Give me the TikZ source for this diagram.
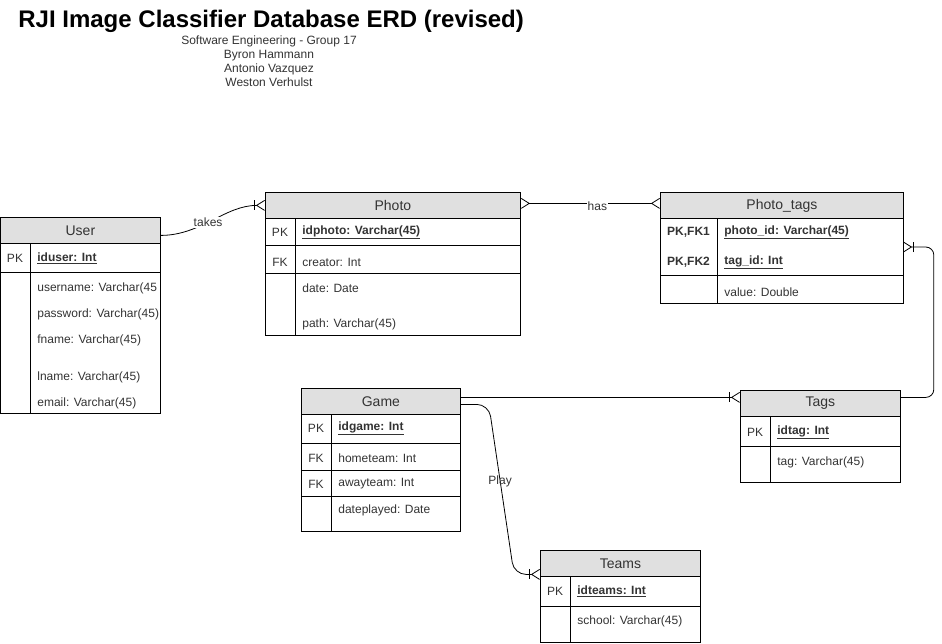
\documentclass[tikz,border=0pt]{standalone}
\usepackage{fontspec}
\setmainfont{Liberation Sans}
\usetikzlibrary{arrows.meta}

\definecolor{hdrgray}{HTML}{E0E0E0}
\definecolor{txtgray}{HTML}{333333}

\newcommand{\keyfld}[1]{\textbf{\underline{#1}}}

\tikzset{
  hdr/.style={draw, fill=hdrgray, anchor=north west, inner sep=0pt, minimum height=26pt,
    text=txtgray, font=\fontsize{14}{16}\selectfont},
  fld/.style={anchor=west, inner sep=0pt, text=txtgray, font=\fontsize{12}{14}\selectfont},
  key/.style={inner sep=0pt, text=txtgray, font=\fontsize{12}{14}\selectfont},
  lbl/.style={fill=white, inner sep=1pt, text=txtgray, font=\fontsize{12}{14}\selectfont},
  onemany/.style={-{Bar[width=10pt,sep=1pt]Straight Barb[reversed,length=8pt,width=10pt]}},
  manymany/.style={{Straight Barb[reversed,length=8pt,width=10pt]}-{Straight Barb[reversed,length=8pt,width=10pt]}}
}

\begin{document}
\begin{tikzpicture}[x=1pt, y=-1pt, line width=0.8pt]
      \useasboundingbox (0,0) rectangle (942,643);

      % title
      \node[anchor=west, inner sep=0pt, font=\fontsize{24}{26}\selectfont\bfseries] (title) at (18,21) {RJI Image Classifier Database ERD (revised)};
      \node[align=center, inner sep=0pt, text=txtgray, font=\fontsize{12}{14}\selectfont] (authors) at (269,61)
        {Software Engineering - Group 17\\Byron Hammann\\Antonio Vazquez\\Weston Verhulst};

      % User
      \node[hdr, minimum width=160pt] (user) at (0,217) {User};
      \draw (0,243) rectangle (160,413);
      \draw (0,272) -- (160,272);
      \draw (30,243) -- (30,413);
      \node[key] at (15,258) {PK};
      \node[fld] at (37,258) {\keyfld{iduser: Int}};
      \node[fld] at (37,288) {username: Varchar(45};
      \node[fld] at (37,314) {password: Varchar(45)};
      \node[fld] at (37,340) {fname: Varchar(45)};
      \node[fld] at (37,377) {lname: Varchar(45)};
      \node[fld] at (37,403) {email: Varchar(45)};

      % Photo
      \node[hdr, minimum width=255pt] (photo) at (265,192) {Photo};
      \draw (265,218) rectangle (520,335);
      \draw (265,245) -- (520,245);
      \draw (265,273) -- (520,273);
      \draw (295,218) -- (295,335);
      \node[key] at (280,232) {PK};
      \node[fld] at (302,232) {\keyfld{idphoto: Varchar(45)}};
      \node[key] at (280,262) {FK};
      \node[fld] at (302,262) {creator: Int};
      \node[fld] at (302,288) {date: Date};
      \node[fld] at (302,324) {path: Varchar(45)};

      % Photo_tags
      \node[hdr, minimum width=243pt] (phototags) at (660,192) {Photo\_tags};
      \draw (660,218) rectangle (903,303);
      \draw (660,275) -- (903,275);
      \draw (717,218) -- (717,303);
      \node[key, font=\fontsize{12}{14}\selectfont\bfseries] at (688.5,232) {PK,FK1};
      \node[fld] at (724,232) {\keyfld{photo\_id: Varchar(45)}};
      \node[key, font=\fontsize{12}{14}\selectfont\bfseries] at (688.5,262) {PK,FK2};
      \node[fld] at (724,262) {\keyfld{tag\_id: Int}};
      \node[fld] at (724,292) {value: Double};
      \coordinate (phototagsside) at (903,247);

      % Game
      \node[hdr, minimum width=159pt] (game) at (301,388) {Game};
      \draw (301,414) rectangle (460,531);
      \draw (301,443) -- (460,443);
      \draw (301,470) -- (460,470);
      \draw (301,496) -- (460,496);
      \draw (331,414) -- (331,531);
      \node[key] at (316,428) {PK};
      \node[fld] at (338,428) {\keyfld{idgame: Int}};
      \node[key] at (316,458) {FK};
      \node[fld] at (338,458) {hometeam: Int};
      \node[key] at (316,484) {FK};
      \node[fld] at (338,484) {awayteam: Int};
      \node[fld] at (338,510) {dateplayed: Date};

      % Tags
      \node[hdr, minimum width=160pt] (tags) at (740,390) {Tags};
      \draw (740,416) rectangle (900,482);
      \draw (740,446) -- (900,446);
      \draw (770,416) -- (770,482);
      \node[key] at (755,432) {PK};
      \node[fld] at (777,432) {\keyfld{idtag: Int}};
      \node[fld] at (777,462) {tag: Varchar(45)};

      % Teams
      \node[hdr, minimum width=160pt] (teams) at (540,550) {Teams};
      \draw (540,576) rectangle (700,642);
      \draw (540,606) -- (700,606);
      \draw (570,576) -- (570,642);
      \node[key] at (555,591) {PK};
      \node[fld] at (577,591) {\keyfld{idteams: Int}};
      \node[fld] at (577,621) {school: Varchar(45)};

      % relationships
      \draw[onemany] ([yshift=-5pt]user.east) .. controls +(40,0) and +(-40,0) .. node[lbl, pos=0.45] {takes} (photo.west);
      \draw[manymany] ([yshift=2pt]photo.east) -- node[lbl, pos=0.55, yshift=-3pt] {has} ([yshift=2pt]phototags.west);
      \draw[onemany, rounded corners=8pt] ([yshift=6pt]tags.east) -- ++(33,0) |- (phototagsside);
      \draw[onemany] ([yshift=4pt]game.east) -- ([yshift=4pt]game.east -| tags.west);
      \draw[onemany, rounded corners=12pt] ([yshift=-3pt]game.east) -- ++(28,0) -- node[lbl, fill=none, pos=0.45] {Play} ([xshift=-26pt, yshift=-11pt]teams.west) -- ([yshift=-11pt]teams.west);
    \end{tikzpicture}
\end{document}
